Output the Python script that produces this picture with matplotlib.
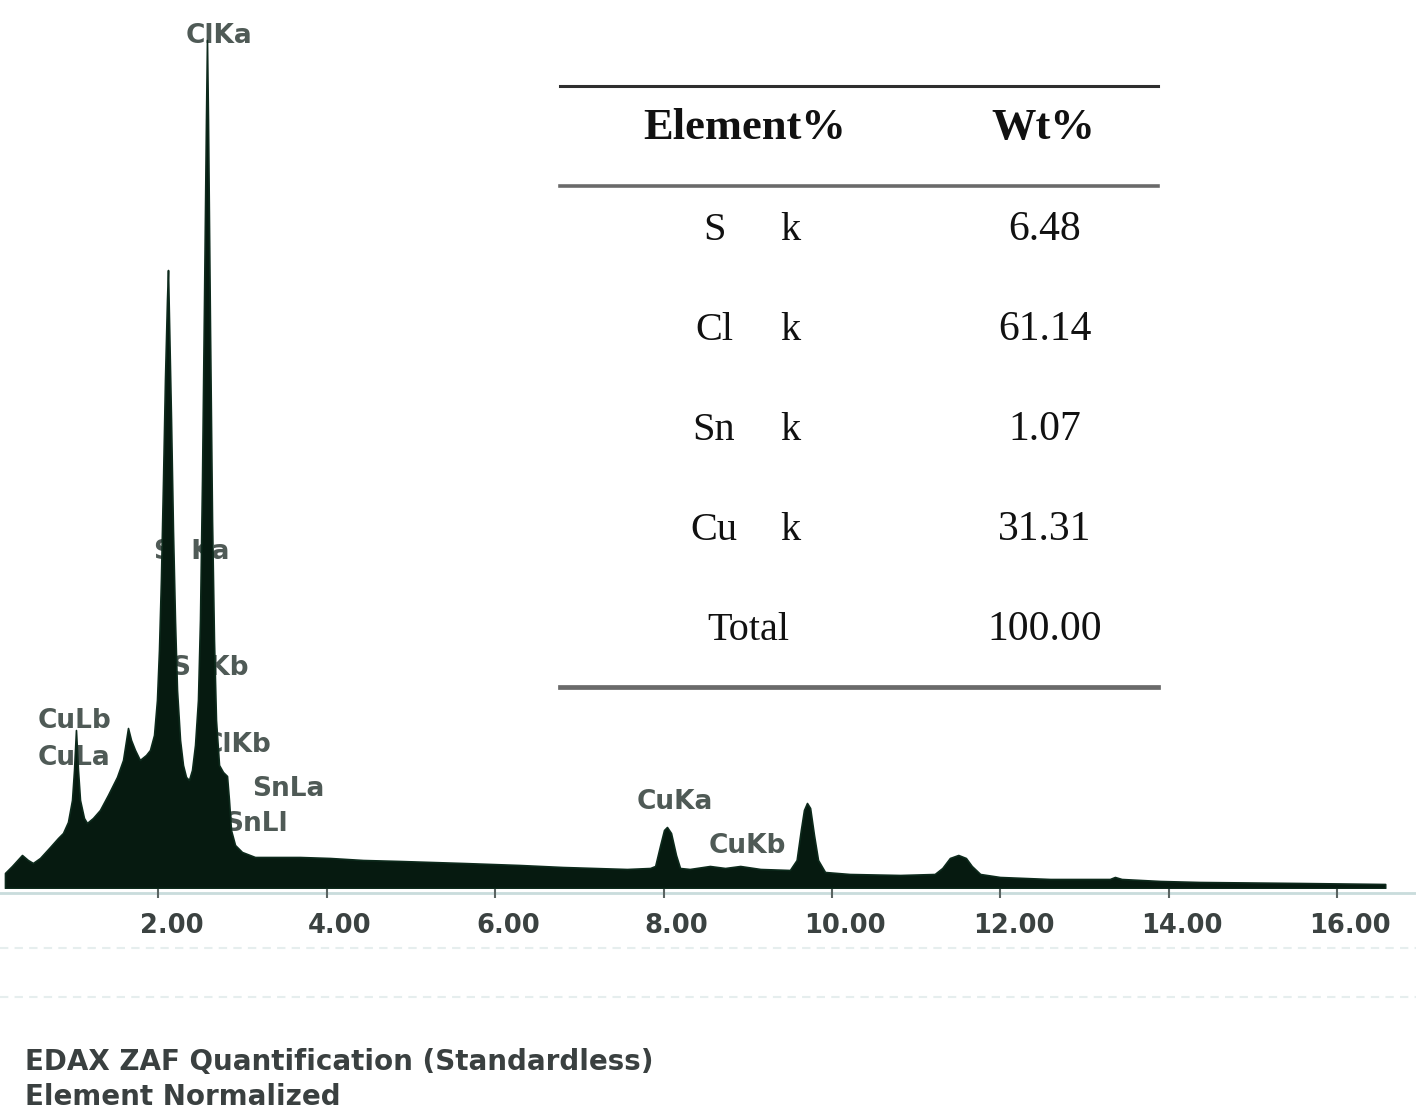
import matplotlib
matplotlib.use("Agg")
import matplotlib.pyplot as plt
from matplotlib.lines import Line2D
from matplotlib.transforms import ScaledTranslation

# ---------------- data ----------------
energy_kev = [0.178, 0.261, 0.38, 0.45, 0.51, 0.594, 0.713, 0.808, 0.867, 0.926,
              0.974, 0.998, 1.021, 1.045, 1.069, 1.116, 1.152, 1.223, 1.306, 1.401,
              1.508, 1.58, 1.639, 1.675, 1.722, 1.78, 1.853, 1.90, 1.948, 1.983,
              2.007, 2.03, 2.055, 2.078, 2.102, 2.114, 2.126, 2.15, 2.173, 2.197,
              2.221, 2.257, 2.292, 2.328, 2.363, 2.399, 2.435, 2.47, 2.494, 2.518,
              2.542, 2.565, 2.577, 2.589, 2.613, 2.637, 2.66, 2.684, 2.72, 2.767,
              2.815, 2.838, 2.862, 2.91, 2.993, 3.147, 3.385, 3.68, 4.04, 4.43,
              4.87, 5.62, 6.29, 6.80, 7.565, 7.84, 7.90, 7.96, 8.005, 8.04,
              8.088, 8.147, 8.195, 8.31, 8.55, 8.73, 8.91, 9.15, 9.50, 9.58,
              9.63, 9.667, 9.703, 9.74, 9.786, 9.834, 9.917, 10.21, 10.81, 11.22,
              11.31, 11.40, 11.50, 11.59, 11.66, 11.76, 11.995, 12.59, 13.30, 13.36,
              13.44, 13.90, 14.37, 15.56, 16.57]
counts = [15, 22, 33, 28, 25, 30, 41, 50, 55, 66,
          88, 118, 158, 118, 88, 70, 65, 70, 78, 93,
          111, 128, 160, 148, 138, 128, 133, 138, 153, 188,
          238, 308, 408, 508, 588, 618, 568, 468, 358, 268,
          198, 148, 123, 111, 108, 118, 143, 188, 268, 408,
          588, 768, 848, 768, 558, 368, 248, 168, 123, 116,
          112, 88, 58, 43, 36, 31, 31, 31, 30, 28,
          27, 25, 23, 21, 19, 20, 22, 43, 58, 61,
          55, 33, 20, 19, 22, 20, 22, 19, 18, 28,
          58, 78, 85, 80, 53, 28, 16, 14, 13, 14,
          20, 30, 33, 30, 22, 14, 11, 9, 9, 11,
          9, 7, 6, 5, 4]

peak_labels = ["ClKa", "S  Ka", "S  Kb", "CuLb", "CuLa", "ClKb", "SnLa", "SnLl", "CuKa", "CuKb"]
peak_label_e = [2.72, 1.95, 2.16, 0.57, 0.57, 2.54, 3.11, 2.78, 7.68, 8.54]
peak_label_c = [852, 336, 220, 167, 130, 143, 99, 64, 86, 42]
peak_label_ha = ["center", "left", "left", "left", "left", "left", "left", "left", "left", "left"]

x_ticks = [2, 4, 6, 8, 10, 12, 14, 16]
x_tick_labels = ["2.00", "4.00", "6.00", "8.00", "10.00", "12.00", "14.00", "16.00"]

table_header = ["Element%", "Wt%"]
elements = ["S", "Cl", "Sn", "Cu"]
shell = "k"
wt_percent = ["6.48", "61.14", "1.07", "31.31"]
total_label = "Total"
total_value = "100.00"

footer_lines = ["EDAX ZAF Quantification (Standardless)", "Element Normalized"]

# ---------------- figure ----------------
W, H = 1416, 1116
fig = plt.figure(figsize=(W / 100, H / 100), dpi=100)
fig.patch.set_facecolor("white")

ax = fig.add_axes([0, (H - 888) / H, 1, 888 / H])
ax.set_xlim((0 + 10) / 84.2, (W + 10) / 84.2)
ax.set_ylim(0, 888)
ax.fill_between(energy_kev, counts, 0, color="#061a10", linewidth=1.2,
                edgecolor="#0d2a1c", zorder=3)
for s, e, c, ha in zip(peak_labels, peak_label_e, peak_label_c, peak_label_ha):
    ax.text(e, c, s, ha=ha, va="center", fontsize=19, fontweight="bold",
            family="DejaVu Sans", color="#4f5a56", zorder=1)

for sp in ax.spines.values():
    sp.set_visible(False)
ax.set_yticks([])
ax.set_xticks(x_ticks)
ax.set_xticklabels(x_tick_labels, fontsize=18.5, fontweight="bold",
                   family="DejaVu Sans", color="#3b4241")
ax.tick_params(axis="x", direction="out", length=7, width=1.5, color="#5a6462", pad=11)
for lbl in ax.get_xticklabels():
    lbl.set_transform(lbl.get_transform() + ScaledTranslation(13 / 100, 0, fig.dpi_scale_trans))
ax.patch.set_alpha(0)

# overlay in pixel coordinates for table, axis rule and footer
ov = fig.add_axes([0, 0, 1, 1], zorder=-1)
ov.set_xlim(0, W)
ov.set_ylim(H, 0)
ov.axis("off")
ov.add_line(Line2D([0, W], [893, 893], color="#c9dcdc", lw=2))
ov.add_line(Line2D([0, W], [948, 948], color="#e6eeee", lw=1.5, ls=(0, (4, 3))))
ov.add_line(Line2D([0, W], [997, 997], color="#e6eeee", lw=1.5, ls=(0, (4, 3))))

tab = fig.add_axes([0, 0, 1, 1], zorder=5)
tab.set_xlim(0, W)
tab.set_ylim(H, 0)
tab.axis("off")
tab.add_line(Line2D([560, 1158], [86, 86], color="#2e2e2e", lw=2.2))
tab.add_line(Line2D([560, 1158], [186, 186], color="#6a6a6a", lw=2.6))
tab.add_line(Line2D([560, 1158], [687, 687], color="#6a6a6a", lw=3.4))
serif = "Liberation Serif"
tab.text(745, 128, table_header[0], ha="center", va="center", fontsize=32,
         fontweight="bold", family=serif, color="#111")
tab.text(1043, 128, table_header[1], ha="center", va="center", fontsize=32,
         fontweight="bold", family=serif, color="#111")
row_y = [230, 330, 430, 530]
for el, v, y in zip(elements, wt_percent, row_y):
    tab.text(714, y, el, ha="center", va="center", fontsize=29, family=serif, color="#111")
    tab.text(790, y, shell, ha="center", va="center", fontsize=29, family=serif, color="#111")
    tab.text(1045, y, v, ha="center", va="center", fontsize=30, family=serif, color="#111")
tab.text(748, 630, total_label, ha="center", va="center", fontsize=29, family=serif, color="#111")
tab.text(1045, 630, total_value, ha="center", va="center", fontsize=30, family=serif, color="#111")

for i, line in enumerate(footer_lines):
    tab.text(25, 1062 + 35 * i, line, ha="left", va="center", fontsize=20,
             fontweight="bold", family="DejaVu Sans", color="#3a4040")

fig.savefig("out.png", dpi=100, facecolor="white")
